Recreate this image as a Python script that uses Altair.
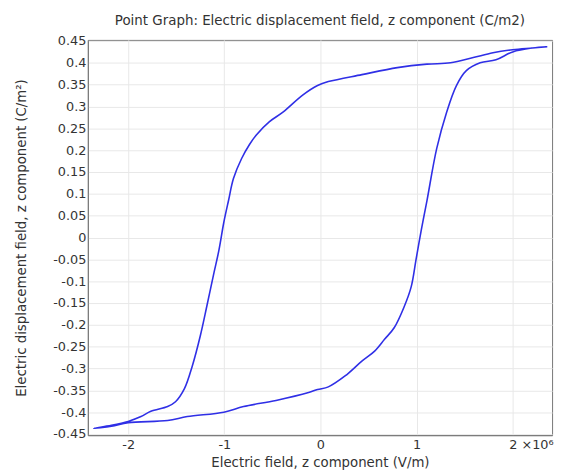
import altair as alt
import pandas as pd

# Hysteresis loop: start at max field, upper branch down to min, lower branch back up
e_field_mv = [2.36, 2.205, 2.0, 1.795, 1.59, 1.354, 1.108, 0.80, 0.431, 0.082, -0.03,
              -0.185, -0.39, -0.533, -0.667, -0.738, -0.82, -0.905, -0.955, -1.005,
              -1.056, -1.108, -1.18, -1.251, -1.333, -1.415, -1.508, -1.59, -1.764,
              -1.867, -2.0, -2.174, -2.36,
              -2.174, -2.0, -1.59, -1.385, -1.005, -0.8, -0.462, -0.123, -0.03, 0.082,
              0.256, 0.431, 0.564, 0.667, 0.769, 0.872, 0.944, 0.995, 1.05, 1.108,
              1.21, 1.313, 1.415, 1.518, 1.662, 1.826, 2.0, 2.205, 2.36]
d_field = [0.437, 0.434, 0.430, 0.423, 0.412, 0.400, 0.397, 0.389, 0.373, 0.357, 0.348,
           0.326, 0.287, 0.265, 0.235, 0.213, 0.181, 0.135, 0.086, 0.035,
           -0.029, -0.081, -0.155, -0.226, -0.294, -0.346, -0.376, -0.387, -0.398,
           -0.410, -0.421, -0.430, -0.437,
           -0.432, -0.424, -0.419, -0.410, -0.400, -0.387, -0.373, -0.355, -0.348, -0.342,
           -0.317, -0.283, -0.260, -0.233, -0.206, -0.158, -0.113, -0.050, 0.018, 0.084,
           0.204, 0.287, 0.348, 0.382, 0.400, 0.407, 0.425, 0.434, 0.437]

x_ticks = [-2000000, -1000000, 0, 1000000, 2000000]
y_ticks = [0.45, 0.4, 0.35, 0.3, 0.25, 0.2, 0.15, 0.1, 0.05, 0,
           -0.05, -0.1, -0.15, -0.2, -0.25, -0.3, -0.35, -0.4, -0.45]

df = pd.DataFrame({
    "E": [v * 1e6 for v in e_field_mv],
    "D": d_field,
    "i": list(range(len(d_field))),
})

FONT = "DejaVu Sans"

chart = alt.Chart(df).mark_line(color="#2f2fe6", strokeWidth=1.6,
                                interpolate="catmull-rom").encode(
    x=alt.X("E:Q",
            scale=alt.Scale(domain=[-2420000, 2410000], nice=False, zero=False),
            axis=alt.Axis(values=x_ticks,
                          title="Electric field, z component (V/m)",
                          labelExpr="datum.value == 2000000 ? '2 ×10⁶' : '' + (datum.value / 1000000)",
                          labelAlign={"condition": {"test": "datum.value == 2000000", "value": "left"}, "value": "center"},
                          labelOffset={"condition": {"test": "datum.value == 2000000", "value": -4}, "value": 0},
                          ticks=False, labelPadding=4, titlePadding=4)),
    y=alt.Y("D:Q",
            scale=alt.Scale(domain=[-0.4525, 0.4525], nice=False, zero=False),
            axis=alt.Axis(values=y_ticks,
                          title="Electric displacement field, z component (C/m²)",
                          labelExpr="'' + datum.value",
                          ticks=False, labelPadding=2, titlePadding=25)),
    order="i:Q",
).properties(
    width=471,
    height=401,
    title=alt.TitleParams("Point Graph: Electric displacement field, z component (C/m2)",
                          font=FONT, fontSize=13.6, fontWeight="normal", color="#333333",
                          anchor="middle", offset=8),
    autosize=alt.AutoSizeParams(type="none"),
    padding={"left": 81, "top": 29, "right": 5, "bottom": 33},
).configure_view(
    stroke="#777777", strokeWidth=1
).configure_axis(
    labelFont=FONT, titleFont=FONT, labelFontSize=13, titleFontSize=13.5,
    labelColor="#333333", titleColor="#333333", titleFontWeight="normal",
    gridColor="#e8e8e8", domainColor="#777777",
)

chart.save("out.html", embed_options={"renderer": "svg", "actions": False})
